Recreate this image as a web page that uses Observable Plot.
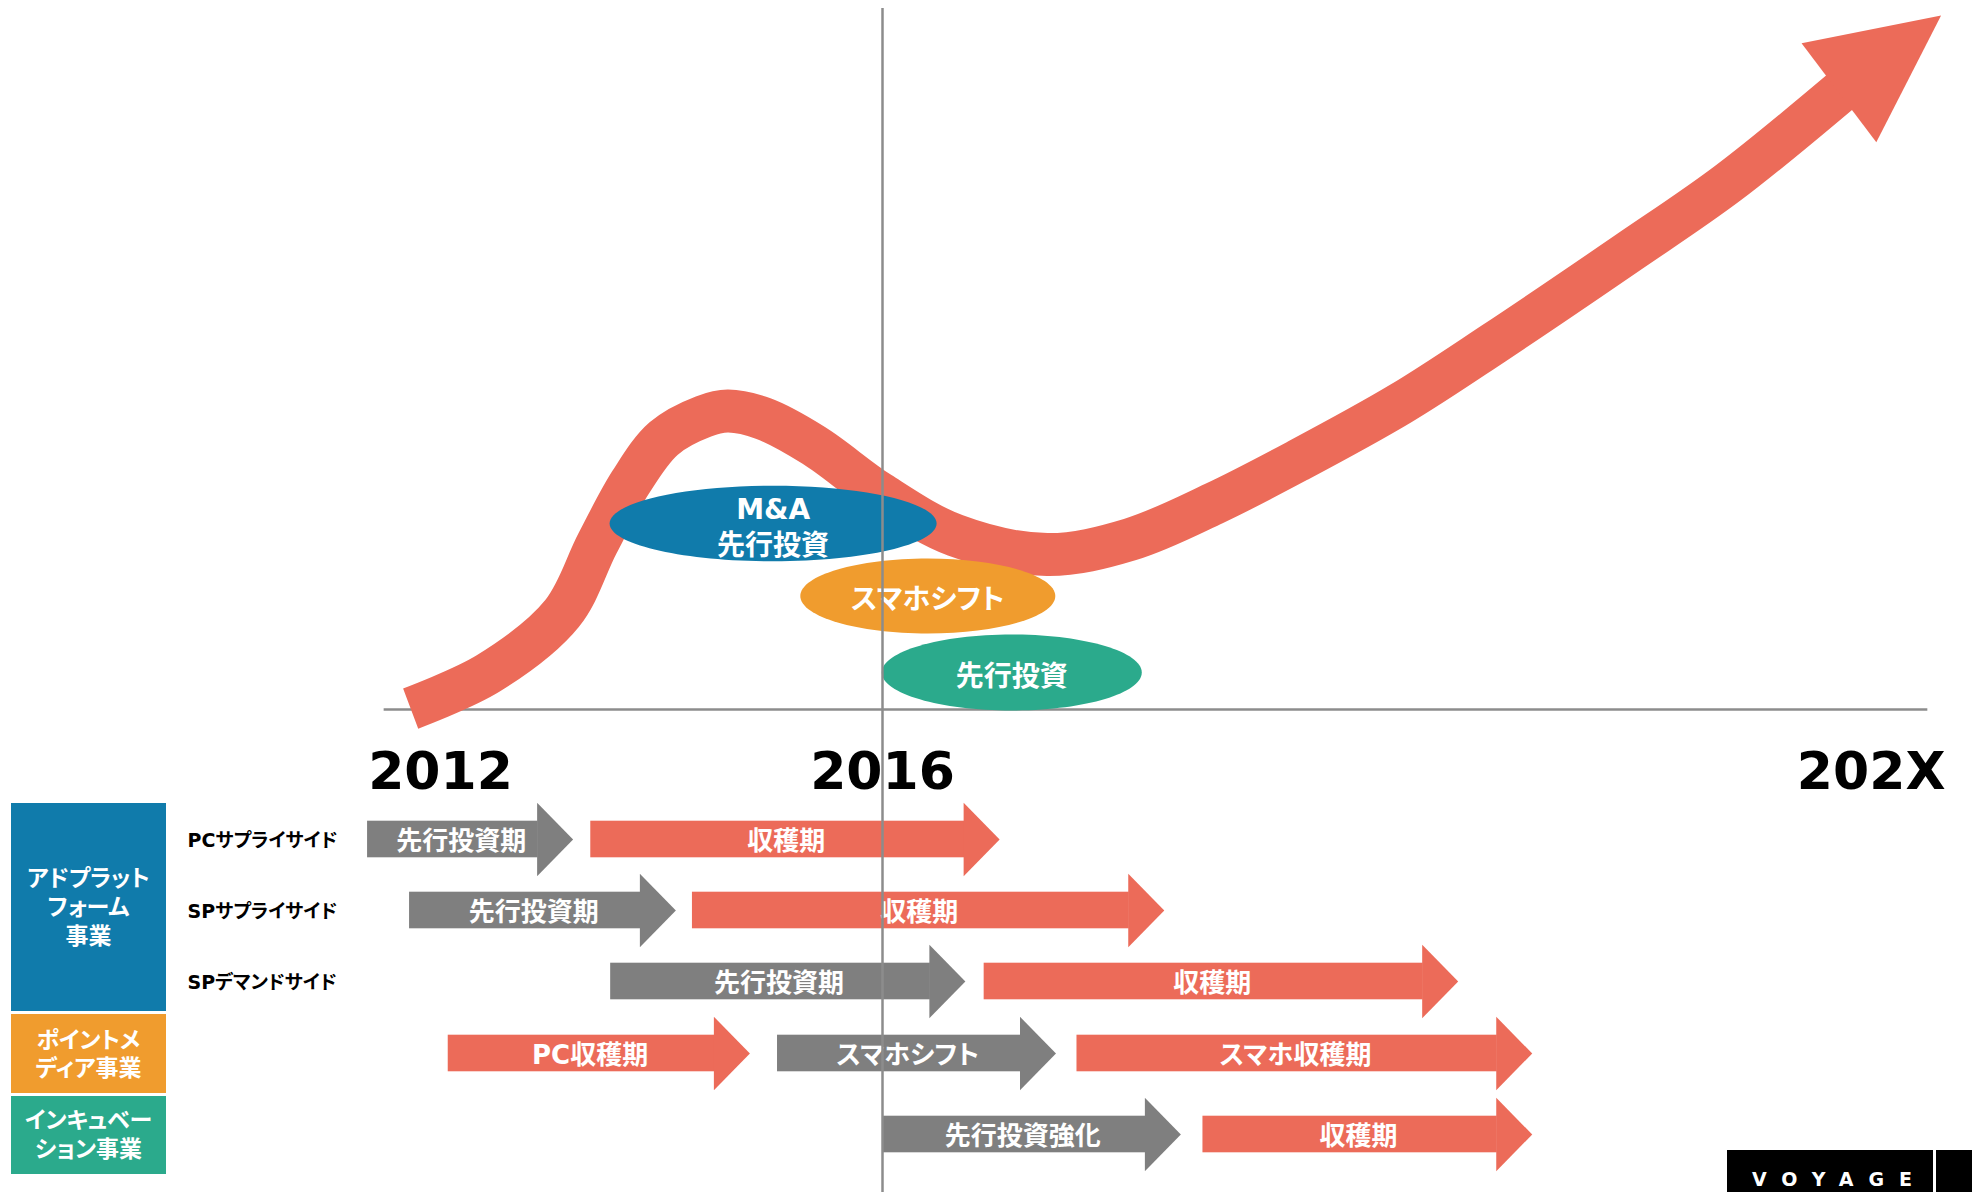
<!DOCTYPE html>
<html><head><meta charset="utf-8">
<script src="https://cdn.jsdelivr.net/npm/d3@7"></script>
<script src="https://cdn.jsdelivr.net/npm/@observablehq/plot@0.6"></script>
<style>
html,body{margin:0;padding:0;background:#fff;overflow:hidden;}
#page{position:relative;width:1972px;height:1192px;overflow:hidden;font-family:"DejaVu Sans","Noto Sans CJK JP",sans-serif;font-feature-settings:"palt";}
#page svg text{font-feature-settings:"palt";}
#top{position:absolute;left:0;top:0;}
#bottom{position:absolute;left:0;top:802px;}
.gbox{position:absolute;left:11px;width:155px;display:flex;align-items:center;justify-content:center;text-align:center;color:#fff;font-weight:bold;font-size:23px;font-family:"DejaVu Sans","Noto Sans CJK JP",sans-serif;}
.logo{position:absolute;background:#000;}
</style>
</head>
<body>
<div id="page">
  <div id="top"></div>
  <div id="bottom"></div>
</div>
<script>
// ---------------- data ----------------
// growth curve (x: year, y: growth index)
const curveYear  = [2011.73, 2012.43, 2013.10, 2013.42, 2013.72, 2014.02, 2014.38, 2014.60, 2014.92, 2015.38, 2015.98, 2016.66, 2017.49, 2018.24, 2019.00, 2019.76, 2020.69, 2021.53, 2022.74, 2023.65, 2024.67];
const curveValue = [0.14, 5.14, 13.71, 23.71, 32.43, 38.71, 41.86, 42.64, 41.57, 37.71, 30.86, 24.86, 22.14, 24.29, 29.43, 35.57, 43.71, 52.29, 65.21, 75.19, 88.29];
const tipYear = 2025.58;
const tipValue = 99.14;

// axis labels
const yearLabels = ["2012", "2016", "202X"];
const yearLabelPos = [2012, 2016, 2025.62];
const axisStart = 2011.49;
const axisEnd = 2025.46;
const dividerYear = 2016;

// bubbles on the curve
const bubbleLabels = ["M&A\n先行投資", "スマホシフト", "先行投資"];
const bubbleYear   = [2015.01, 2016.41, 2017.17];
const bubbleValue  = [26.57, 16.21, 5.29];
const bubbleKind   = ["ad", "point", "incubation"];

// business segments & rows
const groupNames = ["アドプラット\nフォーム\n事業", "ポイントメ\nディア事業", "インキュベー\nション事業"];
const groupKind  = ["ad", "point", "incubation"];
const subRows    = ["PCサプライサイド", "SPサプライサイド", "SPデマンドサイド"];

// timeline phases
const phaseRow   = [0, 0, 1, 1, 2, 2, 3, 3, 3, 4, 4];
const phaseLabel = ["先行投資期", "収穫期", "先行投資期", "収穫期", "先行投資期", "収穫期", "PC収穫期", "スマホシフト", "スマホ収穫期", "先行投資強化", "収穫期"];
const phaseStart = [2011.34, 2013.36, 2011.72, 2014.28, 2013.54, 2016.92, 2012.07, 2015.05, 2017.76, 2016.00, 2018.90];
const phaseEnd   = [2013.20, 2017.06, 2014.13, 2018.55, 2016.75, 2021.21, 2014.80, 2017.57, 2021.88, 2018.70, 2021.88];
const phaseType  = ["invest", "harvest", "invest", "harvest", "invest", "harvest", "harvest", "invest", "harvest", "invest", "harvest"];

// ---------------- styles / layout ----------------
const RED = "#ec6b59", GRAY = "#7f7f7f", LINE = "#8c8c8c";
const kindColor = {ad: "#107bab", point: "#f09c2e", incubation: "#2baa8c"};
const phaseColor = {invest: GRAY, harvest: RED};
const FONT = "DejaVu Sans, Noto Sans CJK JP, sans-serif";

const W = 1972, TOPH = 802, BOTH = 390;
const PX_PER_YEAR = 110.5, X_2012 = 440;
const xDomain = [2012 - X_2012 / PX_PER_YEAR, 2012 + (W - X_2012) / PX_PER_YEAR];
const BASE_PX = 709, PX_PER_UNIT = 7;
const yDomainTop = [(BASE_PX - TOPH) / PX_PER_UNIT, BASE_PX / PX_PER_UNIT];

const rowLane = [0, 1, 2, 3.014, 4.155];
const PX_PER_LANE = 71, LANE0_PX = 37;
const yDomainBottom = [-LANE0_PX / PX_PER_LANE, (BOTH - LANE0_PX) / PX_PER_LANE];

// ---------------- helpers ----------------
function ellipseSymbol(rx, ry) {
  const k = 0.5522847;
  return {draw(ctx) {
    ctx.moveTo(rx, 0);
    ctx.bezierCurveTo(rx, ry * k, rx * k, ry, 0, ry);
    ctx.bezierCurveTo(-rx * k, ry, -rx, ry * k, -rx, 0);
    ctx.bezierCurveTo(-rx, -ry * k, -rx * k, -ry, 0, -ry);
    ctx.bezierCurveTo(rx * k, -ry, rx, -ry * k, rx, 0);
    ctx.closePath();
  }};
}
const HEAD_LEN = 36, HEAD_HALF = 36.7, BODY_HALF = 18.3;
const headSymbol = {draw(ctx) {
  ctx.moveTo(-HEAD_LEN, -HEAD_HALF);
  ctx.lineTo(0, 0);
  ctx.lineTo(-HEAD_LEN, HEAD_HALF);
  ctx.closePath();
}};
const bubbleRadii = [[163.5, 37.8], [127.5, 37.5], [130, 38]];

// ---------------- top chart ----------------
const curve = curveYear.map((x, i) => ({x, y: curveValue[i]}));
const last = curve[curve.length - 1];
const dpx = (tipYear - last.x) * PX_PER_YEAR, dpy = (tipValue - last.y) * PX_PER_UNIT;
const len = Math.hypot(dpx, dpy), ux = dpx / len, uy = dpy / len;
const nx = -uy, ny = ux, HALF_W = 62, BACK = 2;
const bx = last.x - ux * BACK / PX_PER_YEAR, by = last.y - uy * BACK / PX_PER_UNIT;
const head = [
  {x: tipYear, y: tipValue},
  {x: bx + nx * HALF_W / PX_PER_YEAR, y: by + ny * HALF_W / PX_PER_UNIT},
  {x: bx - nx * HALF_W / PX_PER_YEAR, y: by - ny * HALF_W / PX_PER_UNIT},
  {x: tipYear, y: tipValue}
];
const bubbles = bubbleLabels.map((label, i) => ({label, x: bubbleYear[i], y: bubbleValue[i], kind: bubbleKind[i], r: bubbleRadii[i]}));
const years = yearLabels.map((label, i) => ({label, x: yearLabelPos[i], anchor: i === 2 ? "end" : "middle"}));

const topPlot = Plot.plot({
  width: W, height: TOPH,
  margin: 0, marginTop: 0, marginRight: 0, marginBottom: 0, marginLeft: 0,
  x: {domain: xDomain, axis: null},
  y: {domain: yDomainTop, axis: null},
  marks: [
    Plot.ruleY([0], {x1: axisStart, x2: axisEnd, stroke: LINE, strokeWidth: 2.5}),
    Plot.line(curve, {x: "x", y: "y", curve: "catmull-rom", stroke: RED, strokeWidth: 43, strokeLinecap: "butt", strokeLinejoin: "round"}),
    Plot.line(head, {x: "x", y: "y", fill: RED, stroke: "none", curve: "linear"}),
    ...bubbles.map(b => Plot.dot([b], {x: "x", y: "y", symbol: ellipseSymbol(b.r[0], b.r[1]), fill: kindColor[b.kind], stroke: "none"})),
    Plot.text(bubbles, {x: "x", y: "y", text: "label", fill: "#fff", fontSize: 28, fontWeight: "bold", fontFamily: FONT, lineHeight: 1.27, lineAnchor: "middle", dy: 2}),
    Plot.text(years.filter(d => d.anchor === "middle"), {x: "x", y: -8.91, text: "label", fill: "#000", fontSize: 52, fontWeight: "bold", fontFamily: FONT, textAnchor: "middle", lineAnchor: "middle"}),
    Plot.text(years.filter(d => d.anchor === "end"), {x: "x", y: -8.91, text: "label", fill: "#000", fontSize: 52, fontWeight: "bold", fontFamily: FONT, textAnchor: "end", lineAnchor: "middle"}),
    Plot.ruleX([dividerYear], {y1: (BASE_PX - 8) / PX_PER_UNIT, y2: yDomainTop[0], stroke: LINE, strokeWidth: 2.5})
  ]
});
document.getElementById("top").appendChild(topPlot);

// ---------------- bottom timeline ----------------
const phases = phaseLabel.map((label, i) => ({
  label, row: phaseRow[i], lane: rowLane[phaseRow[i]], start: phaseStart[i], end: phaseEnd[i], type: phaseType[i]
}));
const bodyHalfLane = BODY_HALF / PX_PER_LANE;
const rowLabelData = subRows.map((label, i) => ({label, lane: rowLane[i]}));

const bottomPlot = Plot.plot({
  width: W, height: BOTH,
  margin: 0, marginTop: 0, marginRight: 0, marginBottom: 0, marginLeft: 0,
  x: {domain: xDomain, axis: null},
  y: {domain: yDomainBottom, range: [0, BOTH], axis: null},
  marks: [
    Plot.rect(phases, {x1: "start", x2: "end", y1: d => d.lane - bodyHalfLane, y2: d => d.lane + bodyHalfLane, insetRight: HEAD_LEN - 1, fill: d => phaseColor[d.type]}),
    Plot.dot(phases, {x: "end", y: "lane", symbol: headSymbol, fill: d => phaseColor[d.type], stroke: "none"}),
    Plot.text(phases, {x: d => (d.start + d.end) / 2, y: "lane", text: "label", dx: -9, dy: 2, fill: "#fff", fontSize: 26, fontWeight: "bold", fontFamily: FONT}),
    Plot.text(rowLabelData, {frameAnchor: "left", y: "lane", text: "label", dx: 187, dy: 1, textAnchor: "start", fill: "#000", fontSize: 19, fontWeight: "bold", fontFamily: FONT}),
    Plot.ruleX([dividerYear], {stroke: LINE, strokeWidth: 2.5})
  ]
});
document.getElementById("bottom").appendChild(bottomPlot);

// ---------------- segment boxes (row group labels) ----------------
const boxLayout = [{top: 803, h: 208, lh: 29}, {top: 1014, h: 79, lh: 28}, {top: 1096, h: 78, lh: 29}];
const page = document.getElementById("page");
groupNames.forEach((name, i) => {
  const d = document.createElement("div");
  d.className = "gbox";
  d.style.top = boxLayout[i].top + "px";
  d.style.height = boxLayout[i].h + "px";
  d.style.lineHeight = boxLayout[i].lh + "px";
  d.style.background = kindColor[groupKind[i]];
  d.innerHTML = "<div>" + name.split("\n").join("<br>") + "</div>";
  page.appendChild(d);
});

// ---------------- logo ----------------
const l1 = document.createElement("div"); l1.className = "logo";
Object.assign(l1.style, {left: "1727px", top: "1150px", width: "206px", height: "42px"});
const l2 = document.createElement("div"); l2.className = "logo";
Object.assign(l2.style, {left: "1936px", top: "1150px", width: "36px", height: "42px"});
const lt = document.createElement("div");
Object.assign(lt.style, {position: "absolute", left: "1752px", top: "1170px", color: "#fff", fontFamily: "DejaVu Sans", fontWeight: "bold", fontSize: "19px", lineHeight: "19px", letterSpacing: "15px"});
lt.textContent = "VOYAGE";
page.appendChild(l1); page.appendChild(l2); page.appendChild(lt);
</script>
</body></html>
